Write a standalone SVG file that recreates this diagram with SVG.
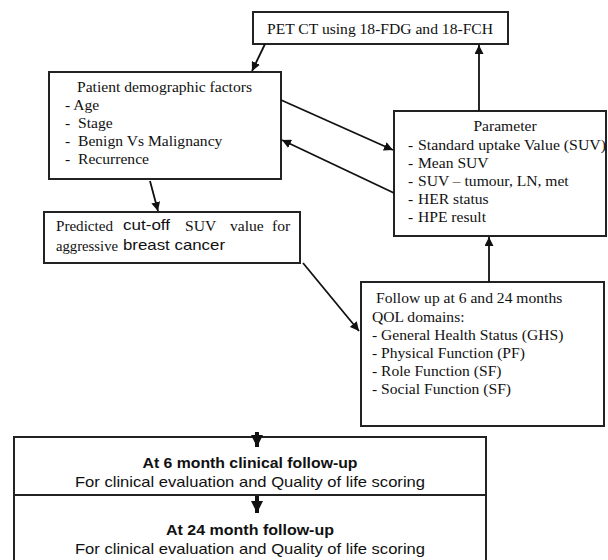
<svg xmlns="http://www.w3.org/2000/svg" width="608" height="560" viewBox="0 0 608 560">
<defs>
<style>
.box{fill:#fff;stroke:#222;stroke-width:2}
.ser{font-family:"Liberation Serif","Times New Roman",serif;font-size:15.6px;fill:#111}
.san{font-family:"Liberation Sans",Arial,sans-serif;fill:#111}
.ln{stroke:#111;stroke-width:1.8;fill:none}
.thick{stroke:#111;stroke-width:4;fill:none}
</style>
<marker id="ah" viewBox="0 0 10 10" refX="10" refY="5" markerWidth="9" markerHeight="9" markerUnits="userSpaceOnUse" orient="auto"><path d="M0,0L10,5L0,10z" fill="#111"/></marker>
<marker id="ahb" viewBox="0 0 10 10" refX="10" refY="5" markerWidth="3" markerHeight="3.2" orient="auto"><path d="M0,0L10,5L0,10z" fill="#111"/></marker>
</defs>
<rect width="608" height="560" fill="#fff"/>

<g id="pet">
<rect class="box" x="253" y="12" width="255" height="32"/>
<text class="ser" x="380" y="34" text-anchor="middle" textLength="226" lengthAdjust="spacingAndGlyphs">PET CT using 18-FDG and 18-FCH</text>
</g>

<g id="demographics">
<rect class="box" x="49" y="72" width="232" height="107"/>
<text class="ser" x="164.5" y="92" text-anchor="middle" textLength="175" lengthAdjust="spacingAndGlyphs">Patient demographic factors</text>
<text class="ser" x="65" y="110">- Age</text>
<text class="ser" x="65" y="128">-</text><text class="ser" x="78" y="128">Stage</text>
<text class="ser" x="65" y="146">-</text><text class="ser" x="78" y="146">Benign Vs Malignancy</text>
<text class="ser" x="65" y="164">-</text><text class="ser" x="78" y="164">Recurrence</text>
</g>

<g id="parameter">
<rect class="box" x="394" y="111" width="212" height="125"/>
<text class="ser" x="505" y="131" text-anchor="middle">Parameter</text>
<text class="ser" x="408" y="150">-</text><text class="ser" x="418" y="150" textLength="188" lengthAdjust="spacingAndGlyphs">Standard uptake Value (SUV)</text>
<text class="ser" x="408" y="168">-</text><text class="ser" x="418" y="168">Mean SUV</text>
<text class="ser" x="408" y="186">-</text><text class="ser" x="418" y="186">SUV – tumour, LN, met</text>
<text class="ser" x="408" y="204">-</text><text class="ser" x="418" y="204">HER status</text>
<text class="ser" x="408" y="222">-</text><text class="ser" x="418" y="222">HPE result</text>
</g>

<g id="predicted">
<rect class="box" x="44" y="212" width="256" height="51"/>
<text class="ser" x="56" y="231" textLength="57" lengthAdjust="spacingAndGlyphs">Predicted</text>
<text class="san" x="123" y="230" font-size="14.5" textLength="47" lengthAdjust="spacingAndGlyphs">cut-off</text>
<text class="ser" x="185" y="231">SUV</text>
<text class="ser" x="230" y="231">value</text>
<text class="ser" x="272" y="231">for</text>
<text class="ser" x="56" y="251" textLength="62" lengthAdjust="spacingAndGlyphs">aggressive</text>
<text class="san" x="123" y="250" font-size="14.5" textLength="102" lengthAdjust="spacingAndGlyphs">breast cancer</text>
</g>

<g id="followup">
<rect class="box" x="361" y="282" width="243" height="144"/>
<text class="ser" x="376" y="303">Follow up at 6 and 24 months</text>
<text class="ser" x="372" y="322">QOL domains:</text>
<text class="ser" x="372" y="340">- General Health Status (GHS)</text>
<text class="ser" x="372" y="358">- Physical Function (PF)</text>
<text class="ser" x="372" y="376">- Role Function (SF)</text>
<text class="ser" x="372" y="394">- Social Function (SF)</text>
</g>

<g id="clinical6">
<rect class="box" x="14" y="437" width="472" height="58"/>
<text class="san" x="250" y="468" font-size="15" font-weight="bold" text-anchor="middle" textLength="215" lengthAdjust="spacingAndGlyphs">At 6 month clinical follow-up</text>
<text class="san" x="250" y="487" font-size="14.5" text-anchor="middle" textLength="350" lengthAdjust="spacingAndGlyphs">For clinical evaluation and Quality of life scoring</text>
</g>

<g id="clinical24">
<rect class="box" x="14" y="495" width="472" height="80"/>
<text class="san" x="250" y="535" font-size="15" font-weight="bold" text-anchor="middle" textLength="168" lengthAdjust="spacingAndGlyphs">At 24 month follow-up</text>
<text class="san" x="250" y="554" font-size="14.5" text-anchor="middle" textLength="350" lengthAdjust="spacingAndGlyphs">For clinical evaluation and Quality of life scoring</text>
</g>

<g id="connectors">
<line class="ln" x1="265" y1="44" x2="252" y2="71" marker-end="url(#ah)"/>
<line class="ln" x1="281" y1="100" x2="393" y2="150" marker-end="url(#ah)"/>
<line class="ln" x1="394" y1="193" x2="282" y2="140" marker-end="url(#ah)"/>
<line class="ln" x1="479" y1="111" x2="479" y2="45" marker-end="url(#ah)"/>
<line class="ln" x1="150" y1="181" x2="158" y2="211" marker-end="url(#ah)"/>
<line class="ln" x1="303" y1="263" x2="359" y2="331" marker-end="url(#ah)"/>
<line class="ln" x1="489" y1="282" x2="489" y2="237" marker-end="url(#ah)"/>
<line class="thick" x1="257" y1="432" x2="257" y2="447" marker-end="url(#ahb)"/>
<line class="thick" x1="257" y1="496" x2="257" y2="513" marker-end="url(#ahb)"/>
</g>
</svg>
